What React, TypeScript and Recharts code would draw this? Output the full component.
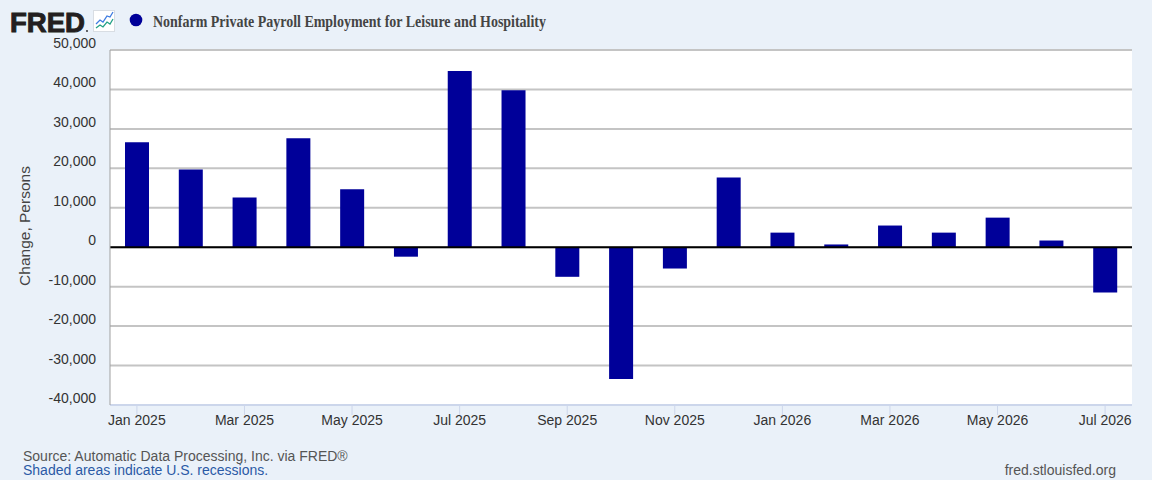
import {
  BarChart,
  Bar,
  XAxis,
  YAxis,
  CartesianGrid,
  ReferenceLine,
} from "recharts";

const months = [
  "Jan 2025", "Feb 2025", "Mar 2025", "Apr 2025", "May 2025", "Jun 2025",
  "Jul 2025", "Aug 2025", "Sep 2025", "Oct 2025", "Nov 2025", "Dec 2025",
  "Jan 2026", "Feb 2026", "Mar 2026", "Apr 2026", "May 2026", "Jun 2026",
  "Jul 2026",
];

// monthly change, persons
const changes = [
  26600, 19700, 12600, 27600, 14700, -2400,
  44700, 39800, -7500, -33400, -5400, 17700,
  3700, 700, 5500, 3700, 7500, 1700,
  -11500,
];

const yTicks = [-40000, -30000, -20000, -10000, 0, 10000, 20000, 30000, 40000, 50000];

const data = months.map((month, i) => ({ month, value: changes[i] }));

const BG = "#eaf1f9";
const FONT = "Arial, 'Liberation Sans', sans-serif";

const YTick = ({ x, y, payload }: any) => (
  <text x={x} y={y - 2} textAnchor="end" fontSize={14} fontFamily={FONT} fill="#333">
    {Number(payload.value).toLocaleString("en-US")}
  </text>
);

const XTick = ({ x, y, payload }: any) => (
  <text x={x} y={y + 10} textAnchor="middle" fontSize={14} fontFamily={FONT} fill="#333">
    {payload.value}
  </text>
);

const App = () => {
  return (
    <div
      style={{
        position: "absolute",
        left: 0,
        top: 0,
        width: 1152,
        height: 480,
        background: BG,
        overflow: "hidden",
      }}
    >
      <BarChart
        width={1152}
        height={480}
        data={data}
        margin={{ top: 50, right: 20, bottom: 45, left: 30 }}
        barCategoryGap={0}
      >
        <CartesianGrid
          horizontal
          vertical={false}
          fill="#fff"
          stroke="#c4c4c4"
          strokeWidth={2}
        />
        <XAxis
          dataKey="month"
          interval={1}
          height={30}
          tickSize={10}
          tickMargin={0}
          axisLine={{ stroke: "#ccd6eb", strokeWidth: 2 }}
          tickLine={{ stroke: "#ccd6eb" }}
          tick={<XTick />}
        />
        <YAxis
          type="number"
          domain={[-40000, 50000]}
          ticks={yTicks}
          width={80}
          tickLine={false}
          tickMargin={8}
          axisLine={{ stroke: "#a0a0a0", strokeWidth: 1 }}
          tick={<YTick />}
        />
        <Bar dataKey="value" fill="#000099" barSize={24} isAnimationActive={false} />
        <ReferenceLine y={0} stroke="#000" strokeWidth={2} />
      </BarChart>

      <svg
        width={1152}
        height={480}
        style={{ position: "absolute", left: 0, top: 0, pointerEvents: "none" }}
      >
        {/* logo */}
        <text
          x={10}
          y={32}
          fontSize={28}
          fontWeight={700}
          fontFamily={FONT}
          fill="#231f20"
          stroke="#231f20"
          strokeWidth={1}
          textLength={75}
          lengthAdjust="spacingAndGlyphs"
        >
          FRED
        </text>
        <circle cx={87} cy={31} r={0.9} fill="#231f20" />
        <rect x={93.5} y={10.5} width={21} height={21} fill="#fff" stroke="#d8dde3" />
        <polyline
          points="96,24 100,20 103,22 107,16 110,17 113,12"
          fill="none"
          stroke="#3d7be0"
          strokeWidth={1.3}
        />
        <polyline
          points="96,28 100,25 103,27 107,22 110,24 113,19"
          fill="none"
          stroke="#23a085"
          strokeWidth={1.3}
        />
        <circle cx={136} cy={20} r={6.3} fill="#000099" />
        <text
          x={153}
          y={26.5}
          fontSize={16}
          fontWeight={700}
          fontFamily="'Liberation Serif', 'Times New Roman', serif"
          fill="#444"
          textLength={393}
          lengthAdjust="spacingAndGlyphs"
        >
          Nonfarm Private Payroll Employment for Leisure and Hospitality
        </text>

        {/* y axis title */}
        <text
          x={30}
          y={226}
          transform="rotate(-90 30 226)"
          textAnchor="middle"
          fontSize={15.5}
          fontFamily={FONT}
          fill="#444"
        >
          Change, Persons
        </text>

        {/* footer */}
        <text x={23} y={461} fontSize={14} fontFamily={FONT} fill="#555">
          Source: Automatic Data Processing, Inc. via FRED®
        </text>
        <text x={23} y={474.5} fontSize={14} fontFamily={FONT} fill="#2a5aa6">
          Shaded areas indicate U.S. recessions.
        </text>
        <text x={1116} y={475} textAnchor="end" fontSize={14} fontFamily={FONT} fill="#555">
          fred.stlouisfed.org
        </text>
      </svg>
    </div>
  );
};

export default App;
